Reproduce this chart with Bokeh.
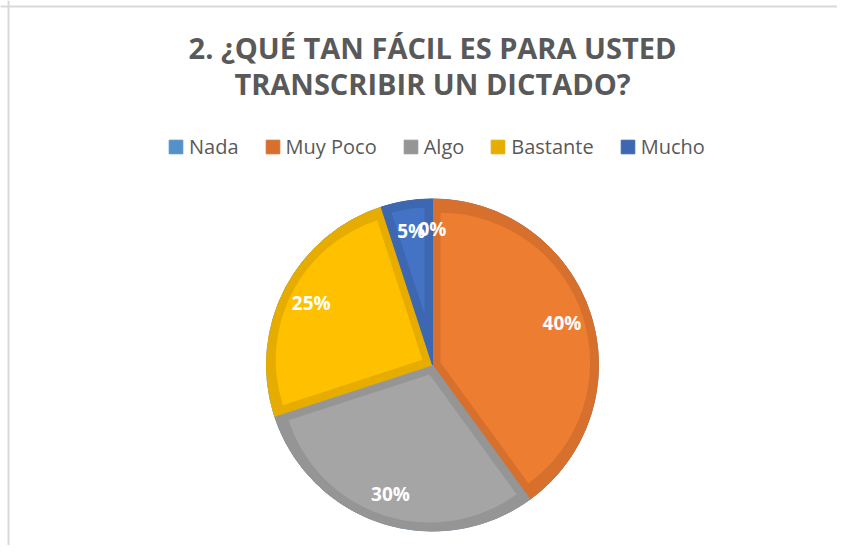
import numpy as np
from bokeh.plotting import figure
from bokeh.models import Range1d, ColumnDataSource, Legend, LegendItem, Span
from bokeh.core.properties import value
from bokeh.embed import file_html
from bokeh.resources import INLINE

# ---- data ----
title_lines = ["2. ¿QUÉ TAN FÁCIL ES PARA USTED", "TRANSCRIBIR UN DICTADO?"]
categories = ["Nada", "Muy Poco", "Algo", "Bastante", "Mucho"]
percent = [0, 40, 30, 25, 5]
fill_colors = ["#5B9BD5", "#ED7D31", "#A5A5A5", "#FFC000", "#4472C4"]
edge_colors = ["#5591C8", "#D6702C", "#959595", "#E6AD00", "#3E67B1"]

# ---- layout ----
W, H = 837, 545
CX, CY, R, T = 432, 180.5, 166, 8
LABEL_D = 0.82 * R
FONT = value("Open Sans")
GRAY = "#595959"

p = figure(width=W, height=H, x_range=Range1d(0, W), y_range=Range1d(0, H),
           output_backend="svg", toolbar_location=None, min_border=0)
p.axis.visible = False
p.grid.visible = False
p.outline_line_color = None
p.background_fill_color = "white"
p.border_fill_color = "white"

p.add_layout(Span(location=8, dimension="height", line_color="#d9d9d9", line_width=2))
p.add_layout(Span(location=H - 6, dimension="width", line_color="#d9d9d9", line_width=2))

frac = np.array(percent, dtype=float) / sum(percent)
cum = np.concatenate([[0.0], np.cumsum(frac)])
start = np.pi / 2 - 2 * np.pi * cum[:-1]
end = np.pi / 2 - 2 * np.pi * cum[1:]
mid = (start + end) / 2
half = np.pi * frac
delta = np.where(half > 0, T / np.sin(np.maximum(half, 1e-9)), 0.0)
inner_r = np.where(half > 0, R - T - delta, 0.0)

outer_src = ColumnDataSource(dict(
    x=[CX] * len(percent), y=[CY] * len(percent), r=[R] * len(percent),
    s=start, e=end, edge=edge_colors))
inner_src = ColumnDataSource(dict(
    x=CX + delta * np.cos(mid), y=CY + delta * np.sin(mid), r=inner_r,
    s=start, e=end, fill=fill_colors))

outer = p.wedge(x="x", y="y", radius="r", start_angle="s", end_angle="e",
                direction="clock", fill_color="edge", line_color="edge",
                line_width=1, source=outer_src)
p.wedge(x="x", y="y", radius="r", start_angle="s", end_angle="e",
        direction="clock", fill_color="fill", line_color=None, source=inner_src)

label_src = ColumnDataSource(dict(
    x=CX + LABEL_D * np.cos(mid), y=CY + LABEL_D * np.sin(mid),
    t=[f"{v}%" for v in percent]))
p.text(x="x", y="y", text="t", source=label_src, text_font=FONT,
       text_font_style="bold", text_font_size="19px", text_color="white",
       text_align="center", text_baseline="middle")

title_src = ColumnDataSource(dict(x=[CX, CX], y=[498, 462], t=title_lines))
p.text(x="x", y="y", text="t", source=title_src, text_font=FONT,
       text_font_style="bold", text_font_size="29px", text_color=GRAY,
       text_align="center", text_baseline="alphabetic")

items = [LegendItem(label=c, renderers=[outer], index=i) for i, c in enumerate(categories)]
legend = Legend(items=items, orientation="horizontal", location=(167, 385),
                glyph_width=17, glyph_height=17, label_standoff=5, spacing=25,
                padding=0, margin=0, border_line_color=None,
                background_fill_alpha=0, label_text_font="Open Sans",
                label_text_font_size="20px", label_text_color=GRAY)
p.add_layout(legend)

open("out.html", "w").write(file_html(p, INLINE))
